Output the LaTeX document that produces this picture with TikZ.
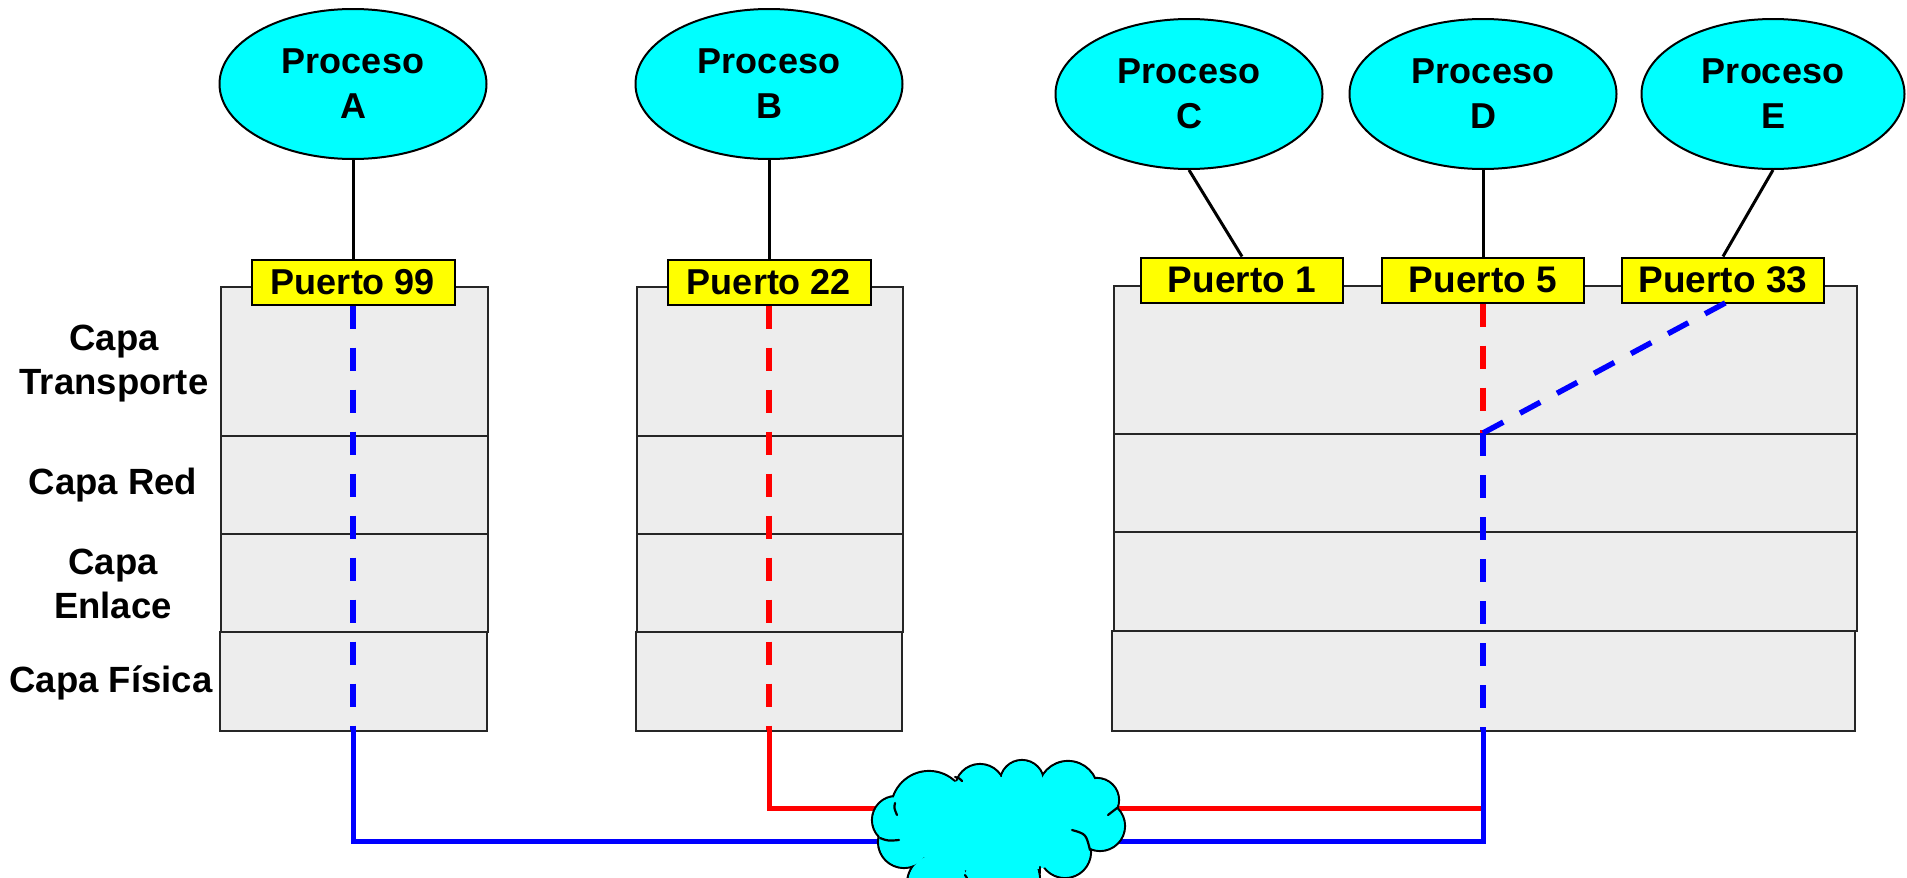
\documentclass[tikz,border=0pt]{standalone}
\usepackage{fontspec}
\setmainfont{Liberation Sans}
\usetikzlibrary{shapes.geometric}
\definecolor{procfill}{RGB}{0,255,255}
\definecolor{portfill}{RGB}{255,255,0}
\definecolor{layerfill}{RGB}{237,237,237}
\definecolor{lnblue}{RGB}{0,0,255}
\definecolor{lnred}{RGB}{255,0,0}
\tikzset{
  proc/.style={ellipse, draw=black, line width=2pt, fill=procfill, inner sep=0pt,
    minimum width=267pt, minimum height=150pt, align=center,
    font=\fontsize{36}{45}\selectfont\bfseries},
  port/.style={rectangle, draw=black, line width=2pt, fill=portfill, inner sep=0pt,
    minimum height=45pt, font=\fontsize{36}{40}\selectfont\bfseries},
  portr/.style={port, font=\fontsize{37}{40}\selectfont\bfseries},
  layerbox/.style={rectangle, draw=black!85, line width=1.8pt, fill=layerfill, inner sep=0pt, anchor=north west},
  layerlabel/.style={align=center, font=\fontsize{36.5}{44}\selectfont\bfseries},
  plink/.style={line width=3pt, black},
  dashblue/.style={line width=5.5pt, lnblue, dash pattern=on 23pt off 19pt},
  dashred/.style={line width=5.5pt, lnred, dash pattern=on 23pt off 19pt},
  solblue/.style={line width=5pt, lnblue},
  solred/.style={line width=5pt, lnred},
  puff/.style={draw=black, line width=2.2pt, fill=procfill},
  puffin/.style={fill=procfill, draw=none},
  notch/.style={draw=black, line width=2.2pt, line cap=round},
}
\begin{document}
\begin{tikzpicture}[x=1pt,y=-1pt]
\useasboundingbox (0,0) rectangle (1907,878);

% layer stacks
\node[layerbox, minimum width=267pt, minimum height=149pt] (a1) at (220,286) {};
\node[layerbox, minimum width=267pt, minimum height=98pt] (a2) at (220,435) {};
\node[layerbox, minimum width=267pt, minimum height=98pt] (a3) at (220,533) {};
\node[layerbox, minimum width=267pt, minimum height=99pt] (a4) at (219,631) {};
\node[layerbox, minimum width=266pt, minimum height=149pt] (b1) at (636,286) {};
\node[layerbox, minimum width=266pt, minimum height=98pt] (b2) at (636,435) {};
\node[layerbox, minimum width=266pt, minimum height=98pt] (b3) at (636,533) {};
\node[layerbox, minimum width=266pt, minimum height=99pt] (b4) at (635,631) {};
\node[layerbox, minimum width=743pt, minimum height=148pt] (c1) at (1113,285) {};
\node[layerbox, minimum width=743pt, minimum height=98pt] (c2) at (1113,433) {};
\node[layerbox, minimum width=743pt, minimum height=99pt] (c3) at (1113,531) {};
\node[layerbox, minimum width=743pt, minimum height=100pt] (c4) at (1111,630) {};

% layer labels
\node[layerlabel] (lt) at (114,364) {Capa\\Transporte};
\node[layerlabel] (lr) at (113,485) {Capa Red};
\node[layerlabel] (le) at (113,584) {Capa\\Enlace};
\node[layerlabel] (lf) at (111,683) {Capa Física};

% processes
\node[proc] (pA) at (353,84) {Proceso\\A};
\node[proc] (pB) at (769,84) {Proceso\\B};
\node[proc] (pC) at (1189,94) {Proceso\\C};
\node[proc] (pD) at (1483,94) {Proceso\\D};
\node[proc, minimum width=263pt] (pE) at (1773,94) {Proceso\\E};

% ports
\node[port, minimum width=203pt] (p99) at (353,282) {Puerto 99};
\node[port, minimum width=203pt] (p22) at (769,282) {Puerto 22};
\node[portr, minimum width=202pt] (p1) at (1242,280) {Puerto 1};
\node[portr, minimum width=202pt] (p5) at (1483,280) {Puerto 5};
\node[portr, minimum width=202pt] (p33) at (1723,280) {Puerto 33};

% process-port links
\draw[plink] (pA.south) -- (p99.north);
\draw[plink] (pB.south) -- (p22.north);
\draw[plink] (pC.south) -- (p1.north);
\draw[plink] (pD.south) -- (p5.north);
\draw[plink] (pE.south) -- (p33.north);

% coordinates
\coordinate (aB) at (353,730);
\coordinate (bB) at (769,730);
\coordinate (dM) at (1483,433);
\coordinate (dB) at (1483,730);
\coordinate (aL) at (353,841);
\coordinate (bL) at (769,808);
\coordinate (dLr) at (1483,808);
\coordinate (dLb) at (1483,841);
\coordinate (p33b) at (1727,302);

% dashed paths inside stacks
\draw[dashblue] (p99.south) -- (aB);
\draw[dashred] (p22.south) -- (bB);
\draw[dashred] (p5.south) -- (dM);
\draw[dashblue] (dM) -- (dB);
\draw[dashblue] (dM) -- (p33b);

% solid network paths
\draw[solred] (bB) -- (bL) -- (dLr);
\draw[solblue] (aB) -- (aL) -- (dLb) -- (dB);

% cloud (network)
\coordinate (net) at (998,825);
\foreach \cx/\cy/\r in {896/820/24, 929/809/38, 980/789/25, 1022/782/22, 1068/791/30,
  1097/800/22, 1100/826/25, 1065/852/26, 1002/880/38, 938/884/31, 904/842/26}{
  \draw[puff] (\cx,\cy) circle[radius=\r];
}
\foreach \cx/\cy/\r in {896/820/24, 929/809/38, 980/789/25, 1022/782/22, 1068/791/30,
  1097/800/22, 1100/826/25, 1065/852/26, 1002/880/38, 938/884/31, 904/842/26}{
  \fill[puffin] (\cx,\cy) circle[radius=\r-1.1];
}
\fill[puffin] (net) ellipse[x radius=100, y radius=48];
% interior notches of the cloud
\draw[notch] (895,803) .. controls (894,808) .. (897,815);
\draw[notch] (880,838) .. controls (888,841) .. (899,840);
\draw[notch] (955,777) .. controls (959,778) .. (962,781);
\draw[notch] (1117,808) .. controls (1113,812) .. (1108,815);
\draw[notch] (1072,830) .. controls (1086,834) .. (1090,850);
\draw[notch] (965,875) -- (967,878);
\draw[notch] (1040,867) -- (1040,873);
\end{tikzpicture}
\end{document}
